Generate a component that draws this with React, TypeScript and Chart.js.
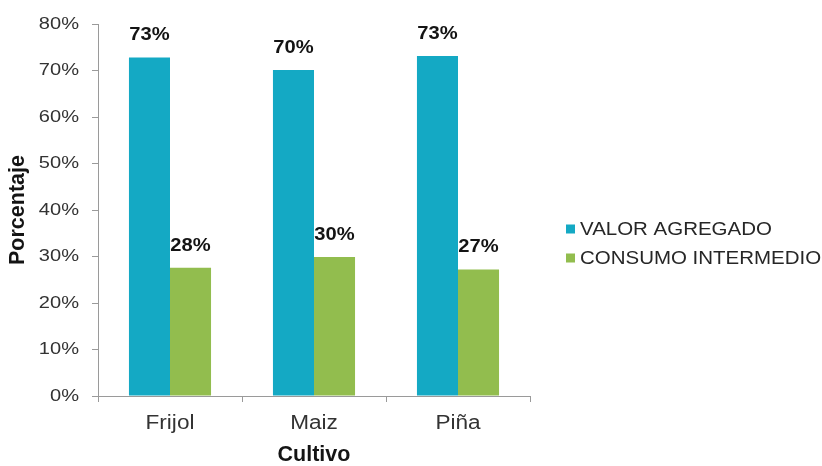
import React, { useEffect, useRef } from "react";
import { Chart, registerables } from "chart.js";

Chart.register(...registerables);

const categories = ["Frijol", "Maiz", "Piña"];
const seriesNames = ["VALOR AGREGADO", "CONSUMO INTERMEDIO"];
const valorAgregado = [72.8, 70.1, 73.1];
const consumoIntermedio = [27.6, 29.9, 27.2];
const seriesColors = ["#14A9C4", "#92BD4E"];
const yTickMax = 80;
const yTickStep = 10;
const xTitle = "Cultivo";
const yTitle = "Porcentaje";

const FONT = "Arial, 'Liberation Sans', sans-serif";

function stretchText(
  ctx: CanvasRenderingContext2D,
  text: string,
  x: number,
  y: number,
  sx: number,
  align: CanvasTextAlign
) {
  ctx.save();
  ctx.translate(x, y);
  ctx.scale(sx, 1);
  ctx.textAlign = align;
  ctx.textBaseline = "middle";
  ctx.fillText(text, 0, 0);
  ctx.restore();
}

const textPlugin = {
  id: "customText",
  afterDraw(chart: any) {
    const ctx: CanvasRenderingContext2D = chart.ctx;
    const xs = chart.scales.x;
    const ys = chart.scales.y;
    ctx.save();

    // y tick labels
    ctx.font = `17px ${FONT}`;
    ctx.fillStyle = "#333333";
    ys.ticks.forEach((t: any) => {
      const py = ys.getPixelForValue(t.value);
      stretchText(ctx, `${t.value}%`, xs.left - 19, py, 1.18, "right");
    });

    // x tick labels
    ctx.font = `20px ${FONT}`;
    ctx.fillStyle = "#333333";
    chart.data.labels.forEach((lab: string, i: number) => {
      const px = xs.getPixelForTick(i);
      stretchText(ctx, lab, px, ys.bottom + 27, 1.13, "center");
    });

    // axis titles
    ctx.font = `bold 21.5px ${FONT}`;
    ctx.fillStyle = "#141414";
    stretchText(ctx, xTitle, (xs.left + xs.right) / 2, ys.bottom + 59, 1, "center");
    ctx.save();
    ctx.translate(18, (ys.top + ys.bottom) / 2);
    ctx.rotate(-Math.PI / 2);
    ctx.textAlign = "center";
    ctx.textBaseline = "middle";
    ctx.fillText(yTitle, 0, 0);
    ctx.restore();

    // data labels
    ctx.font = `bold 18px ${FONT}`;
    ctx.fillStyle = "#141414";
    chart.data.datasets.forEach((ds: any, i: number) => {
      const meta = chart.getDatasetMeta(i);
      meta.data.forEach((bar: any, j: number) => {
        const v = ds.data[j] as number;
        stretchText(ctx, `${Math.round(v)}%`, bar.x, bar.y - 22, 1.12, "center");
      });
    });

    // legend
    ctx.font = `17.5px ${FONT}`;
    const lx = 566;
    const ly = 229;
    chart.data.datasets.forEach((ds: any, i: number) => {
      const y = ly + i * 29;
      ctx.fillStyle = ds.backgroundColor;
      ctx.fillRect(lx, y - 4.5, 9, 9);
      ctx.fillStyle = "#262626";
      stretchText(ctx, ds.label, lx + 14, y + 1, 1.17, "left");
    });

    ctx.restore();
  },
};

export default function App() {
  const ref = useRef<HTMLCanvasElement>(null);

  useEffect(() => {
    document.body.style.margin = "0";
    const canvas = ref.current;
    if (!canvas) return;
    const chart = new Chart(canvas, {
      type: "bar",
      data: {
        labels: categories,
        datasets: [
          {
            label: seriesNames[0],
            data: valorAgregado,
            backgroundColor: seriesColors[0],
            categoryPercentage: 0.57,
            barPercentage: 1,
          },
          {
            label: seriesNames[1],
            data: consumoIntermedio,
            backgroundColor: seriesColors[1],
            categoryPercentage: 0.57,
            barPercentage: 1,
          },
        ],
      },
      options: {
        animation: false,
        responsive: false,
        maintainAspectRatio: false,
        layout: { padding: { top: 24, right: 292, left: 0, bottom: 0 } },
        plugins: {
          legend: { display: false },
          tooltip: { enabled: false },
        },
        scales: {
          x: {
            grid: {
              display: true,
              drawOnChartArea: false,
              drawTicks: true,
              tickLength: 6,
              color: "#9a9a9a",
              offset: true,
            },
            border: { display: true, color: "#9a9a9a", width: 1 },
            ticks: { display: false },
            title: { display: false, text: xTitle },
            afterFit(scale: any) {
              scale.height = 70;
            },
          },
          y: {
            min: 0,
            max: yTickMax,
            grid: {
              display: true,
              drawOnChartArea: false,
              drawTicks: true,
              tickLength: 6,
              color: "#9a9a9a",
            },
            border: { display: true, color: "#9a9a9a", width: 1 },
            ticks: { display: false, stepSize: yTickStep },
            title: { display: false, text: yTitle },
            afterFit(scale: any) {
              scale.width = 98;
            },
          },
        },
      },
      plugins: [textPlugin],
    });
    return () => chart.destroy();
  }, []);

  return (
    <div style={{ width: 822, height: 466, background: "#ffffff" }}>
      <canvas ref={ref} width={822} height={466} style={{ display: "block", width: 822, height: 466 }} />
    </div>
  );
}
